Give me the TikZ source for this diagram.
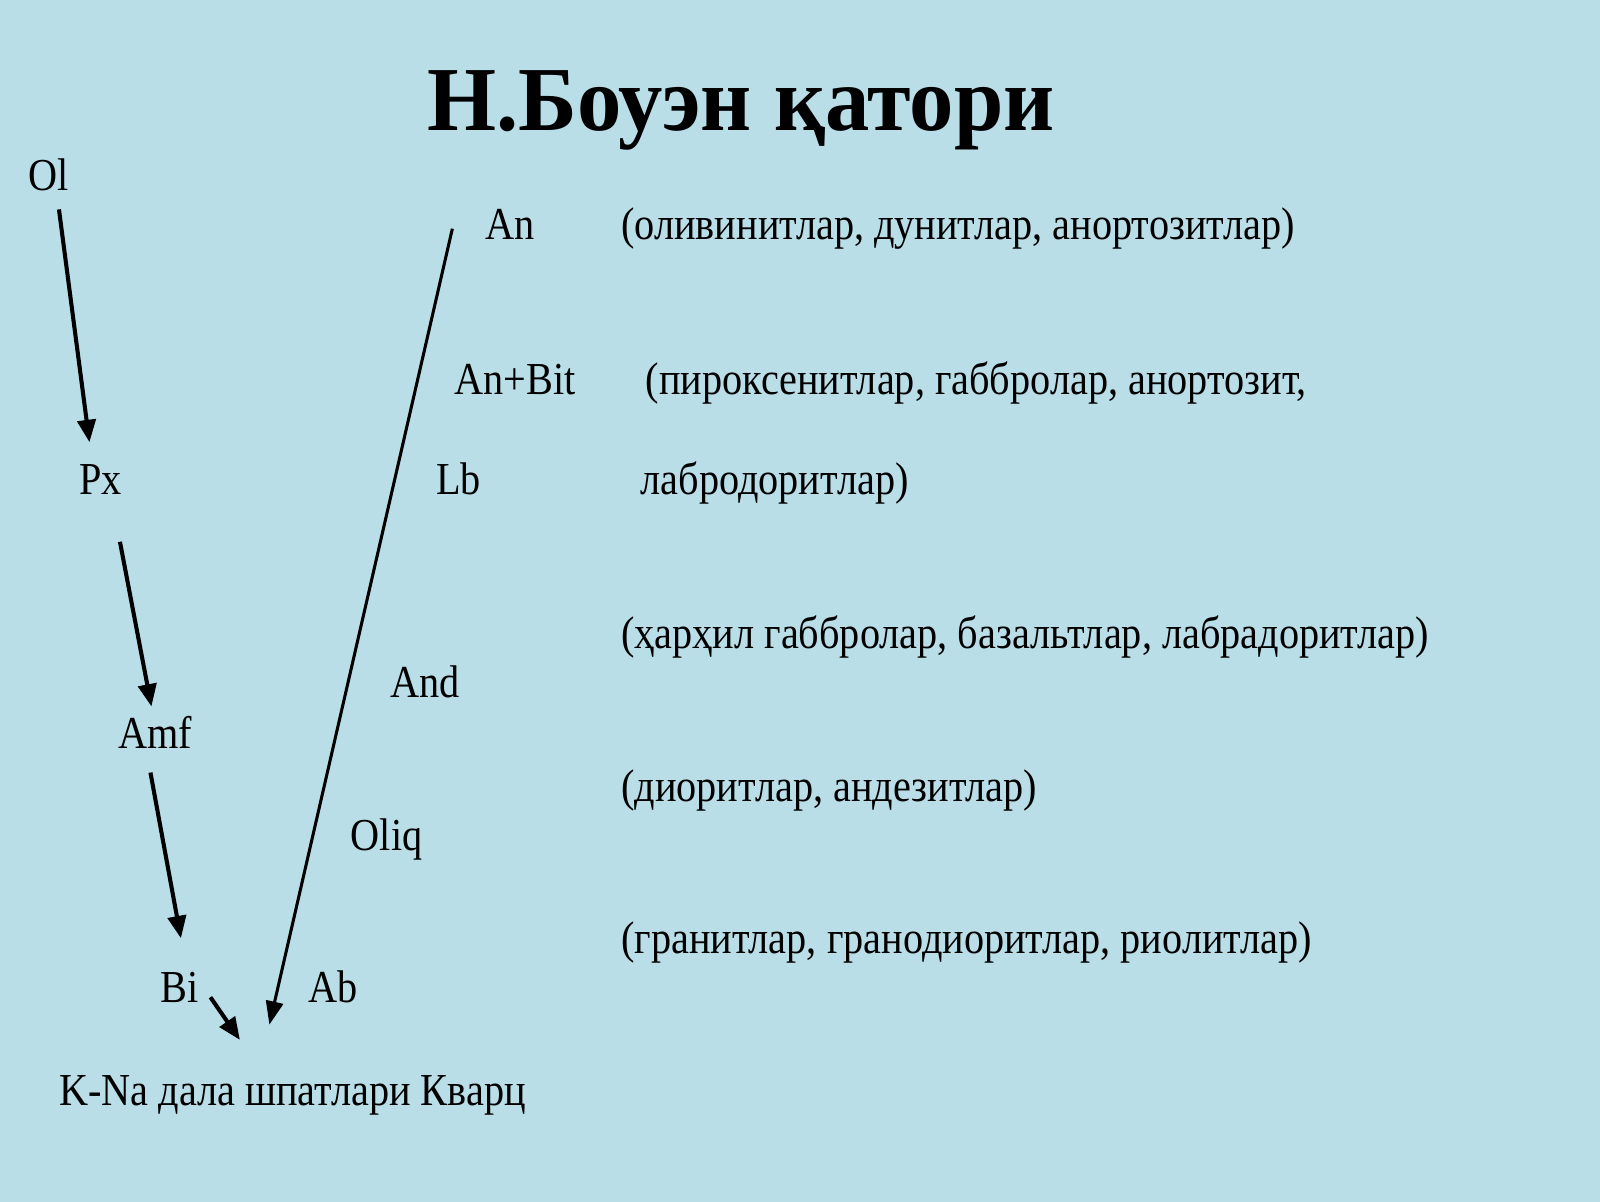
\documentclass[tikz,border=0pt]{standalone}
\usepackage{fontspec}
\setmainfont{Liberation Serif}[FakeStretch=0.88]
\newfontfamily\titlefont{Liberation Serif}[FakeStretch=0.97]
\usetikzlibrary{arrows.meta}
\definecolor{bgblue}{HTML}{B9DEE8}
\tikzset{
  lbl/.style={anchor=base west, inner sep=0pt, font=\fontsize{45}{54}\selectfont},
  ttl/.style={anchor=base, inner sep=0pt, font=\titlefont\fontsize{90}{100}\selectfont\bfseries},
  arr/.style={line width=4pt, -{Triangle[length=22pt,width=18pt]}},
  longarr/.style={line width=3pt, -{Triangle[length=23pt,width=17pt]}}
}
\begin{document}
\begin{tikzpicture}[x=1pt,y=-1pt]
\fill[bgblue] (-3,-3) rectangle (1571,1179);
\useasboundingbox (0,0) rectangle (1568,1176);
\node[ttl] (title) at (726,125) {Н.Боуэн қатори};
% left column
\node[lbl] (Ol) at (25,184) {Ol};
\node[lbl] (Px) at (75,483) {Px};
\node[lbl] (Amf) at (113,733) {Amf};
\node[lbl] (Bi) at (155,983) {Bi};
% middle column
\node[lbl] (An) at (474,233) {An};
\node[lbl] (AnBit) at (444,385) {An+Bit};
\node[lbl] (Lb) at (426,483) {Lb};
\node[lbl] (And) at (381,683) {And};
\node[lbl] (Oliq) at (342,834) {Oliq};
\node[lbl] (Ab) at (300,983) {Ab};
\node[lbl] (KNa) at (55,1085) {K-Na дала шпатлари Кварц};
% right column
\node[lbl] (r1) at (608,233) {(оливинитлар, дунитлар, анортозитлар)};
\node[lbl] (r2) at (632,385) {(пироксенитлар, габбролар, анортозит,};
\node[lbl] (r3) at (627,483) {лабродоритлар)};
\node[lbl] (r4) at (608,635) {(ҳарҳил габбролар, базальтлар, лабрадоритлар)};
\node[lbl] (r5) at (608,785) {(диоритлар, андезитлар)};
\node[lbl] (r6) at (608,935) {(гранитлар, гранодиоритлар, риолитлар)};
% connector ends
\coordinate (OlS) at (55,203);
\coordinate (PxN) at (85,432);
\coordinate (PxS) at (115,530);
\coordinate (AmfN) at (146,692);
\coordinate (AmfS) at (145,757);
\coordinate (BiN) at (175,920);
\coordinate (BiE) at (204,978);
\coordinate (KNaA) at (233,1020);
\coordinate (AnW) at (442,222);
\coordinate (KNaB) at (262,1005);
\draw[arr] (OlS) -- (PxN);
\draw[arr] (PxS) -- (AmfN);
\draw[arr] (AmfS) -- (BiN);
\draw[arr] (BiE) -- (KNaA);
\draw[longarr] (AnW) -- (KNaB);
\end{tikzpicture}
\end{document}
